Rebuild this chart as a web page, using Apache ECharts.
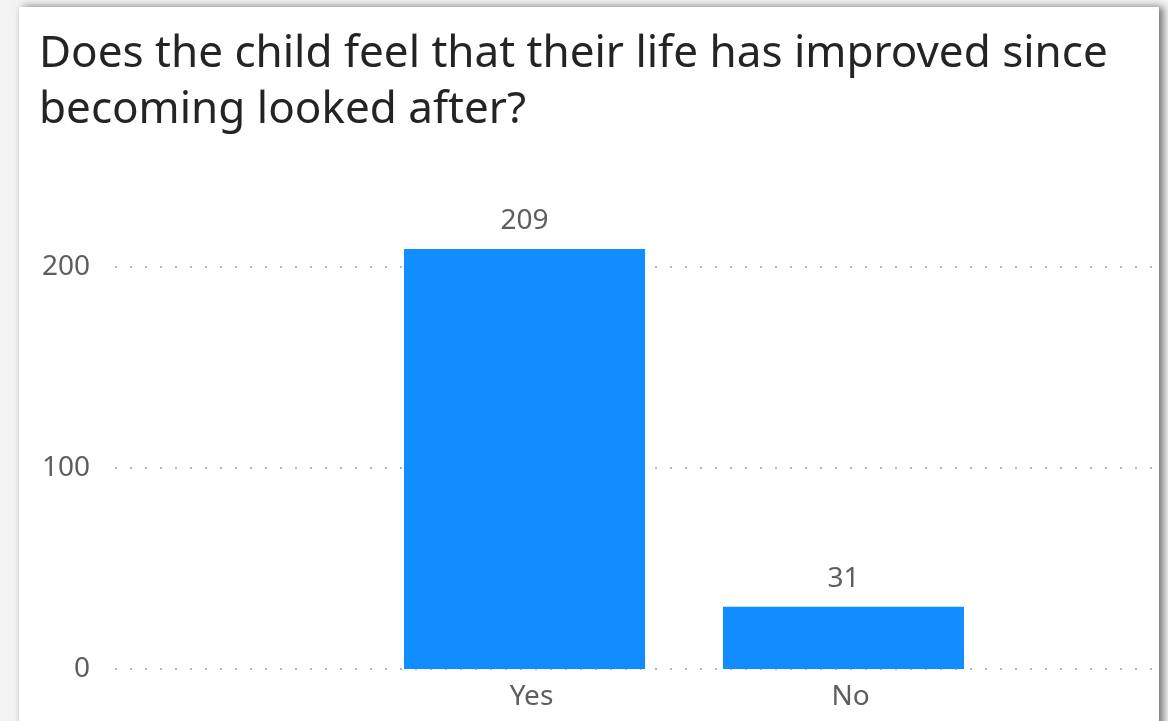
<!DOCTYPE html>
<html>
<head>
<meta charset="utf-8">
<script src="https://cdn.jsdelivr.net/npm/echarts@6/dist/echarts.min.js"></script>
<style>
html,body{margin:0;padding:0;width:1168px;height:721px;overflow:hidden;background:#f3f3f3;}
#card{position:absolute;left:19px;top:7px;width:1140px;height:730px;background:#fff;box-shadow:4px 0 8px rgba(0,0,0,0.55);}
#chart{position:absolute;left:0;top:0;width:1168px;height:721px;}
</style>
</head>
<body>
<div id="card"></div>
<div id="chart"></div>
<script>
const titleLines = ['Does the child feel that their life has improved since', 'becoming looked after?'];
const categories = ['Yes', 'No'];
const counts = [209, 31];
const yTicks = [0, 100, 200];

const chart = echarts.init(document.getElementById('chart'), null, {renderer: 'canvas'});
const labelColor = '#605E5C';
const option = {
  backgroundColor: 'transparent',
  animation: false,
  title: {
    text: titleLines.join('\n'),
    left: 34, top: 21,
    textStyle: {fontFamily: 'Noto Sans', fontSize: 44, fontWeight: 'normal', color: '#252423', lineHeight: 56}
  },
  grid: [
    {left: 115, right: 15, top: 267, bottom: 52},
    {left: 365, right: 165, top: 267, bottom: 52}
  ],
  xAxis: [
    {gridIndex: 0, type: 'value', min: 0, max: 1, show: false},
    {gridIndex: 1, type: 'category', data: categories,
     axisLine: {show: false}, axisTick: {show: false},
     axisLabel: {color: labelColor, fontSize: 28, fontFamily: 'Noto Sans', margin: 14, padding: [0, 0, 0, 14]}}
  ],
  yAxis: [
    {gridIndex: 0, type: 'value', min: yTicks[0], max: yTicks[yTicks.length - 1], interval: 100,
     axisLine: {show: false}, axisTick: {show: false},
     axisLabel: {color: labelColor, fontSize: 28, fontFamily: 'Noto Sans', margin: 25},
     splitLine: {show: true, lineStyle: {color: '#B8B6B4', width: 2, type: [2, 13]}}},
    {gridIndex: 1, type: 'value', min: yTicks[0], max: yTicks[yTicks.length - 1], interval: 100, show: false,
     splitLine: {show: false}}
  ],
  series: [{
    type: 'bar', xAxisIndex: 1, yAxisIndex: 1,
    data: counts, barWidth: 241, clip: false,
    itemStyle: {color: '#118DFF'},
    label: {show: true, position: 'top', distance: 14, color: labelColor, fontSize: 28, fontFamily: 'Noto Sans'}
  }]
};
chart.setOption(option);
</script>
</body>
</html>
